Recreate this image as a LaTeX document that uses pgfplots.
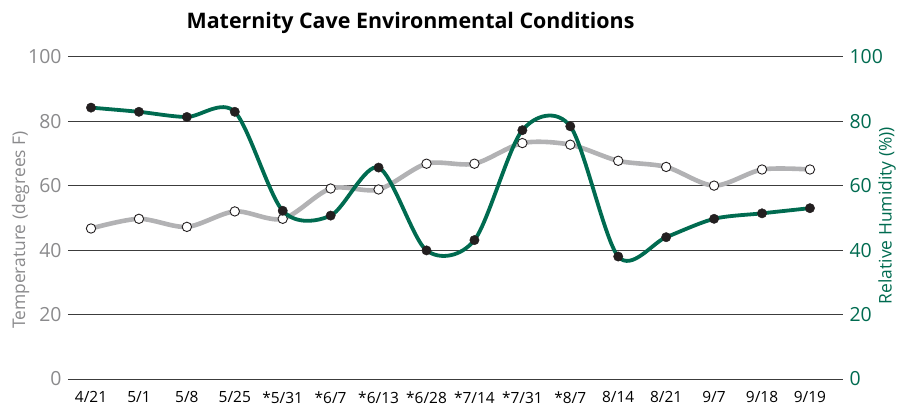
\documentclass[border=0pt]{standalone}
\usepackage{pgfplots}
\pgfplotsset{compat=1.18}
\usepackage{fontspec}
\setmainfont{Open Sans}
\definecolor{grn}{RGB}{0,107,80}
\definecolor{lgray}{RGB}{178,178,180}
\definecolor{tgray}{RGB}{138,138,140}
\definecolor{gridc}{RGB}{60,60,60}
\definecolor{dot}{RGB}{35,31,32}
\begin{document}
\begin{tikzpicture}
\pgfplotsset{
  common/.style={
    width=775bp, height=322.3bp, scale only axis,
    xmin=-0.48, xmax=15.69,
    ymin=0, ymax=100, ytick={0,20,...,100},
    axis line style={draw=none},
    major tick length=0pt,
    /pgf/number format/assume math mode=true,
    clip=false,
  }
}
\begin{axis}[common, name=ax,
  ymajorgrids, grid style={draw=gridc, line width=0.9bp},
  xtick={0,...,15},
  xticklabels={4/21,5/1,5/8,5/25,*5/31,*6/7,*6/13,*6/28,*7/14,*7/31,*8/7,8/14,8/21,9/7,9/18,9/19},
  xticklabel style={font=\fontsize{15.5}{18}\selectfont, text=black, yshift=-9bp},
  yticklabel style={font=\fontsize{19.5}{22}\selectfont, text=tgray, xshift=-3bp},
  ylabel={Temperature (degrees F)},
  ylabel style={font=\fontsize{17.5}{20}\selectfont, text=tgray, at={(axis description cs:-0.061,0.462)}, anchor=center},
  title={Maternity Cave Environmental Conditions},
  title style={font=\bfseries\fontsize{21.5}{25}\selectfont, at={(axis description cs:0.442,1.1046)}, anchor=center, yshift=-6bp},
]
\addplot[lgray, line width=4.6bp, smooth, mark=*, mark size=4.7bp,
  mark options={fill=white, draw=dot, line width=0.9bp}] coordinates {
(0,46.7) (1,49.7) (2,47.2) (3,52.0) (4,49.7) (5,59.1) (6,58.8) (7,66.8)
(8,66.8) (9,73.2) (10,72.7) (11,67.7) (12,65.8) (13,60.0) (14,65.0) (15,65.0)
};
\end{axis}
\begin{axis}[common,
  xtick=\empty,
  yticklabel pos=right,
  yticklabel style={font=\fontsize{19.5}{22}\selectfont, text=grn, xshift=3bp},
  ylabel={Relative Humidity (\%))},
  ylabel style={font=\fontsize{17.5}{20}\selectfont, text=grn, at={(axis description cs:1.0568,0.507)}, anchor=center, rotate=0},
]
\addplot[grn, line width=3.8bp, smooth, mark=*, mark size=4.7bp,
  mark options={fill=dot, draw=dot, line width=0.4bp}] coordinates {
(0,84.2) (1,82.9) (2,81.3) (3,82.9) (4,52.2) (5,50.7) (6,65.6) (7,39.9)
(8,43.1) (9,77.2) (10,78.4) (11,38.0) (12,44.0) (13,49.7) (14,51.4) (15,53.0)
};
\end{axis}
\pgfresetboundingbox
\path ([shift={(-68bp,-28bp)}]ax.south west) rectangle ([shift={(65bp,56.7bp)}]ax.north east);
\end{tikzpicture}
\end{document}
